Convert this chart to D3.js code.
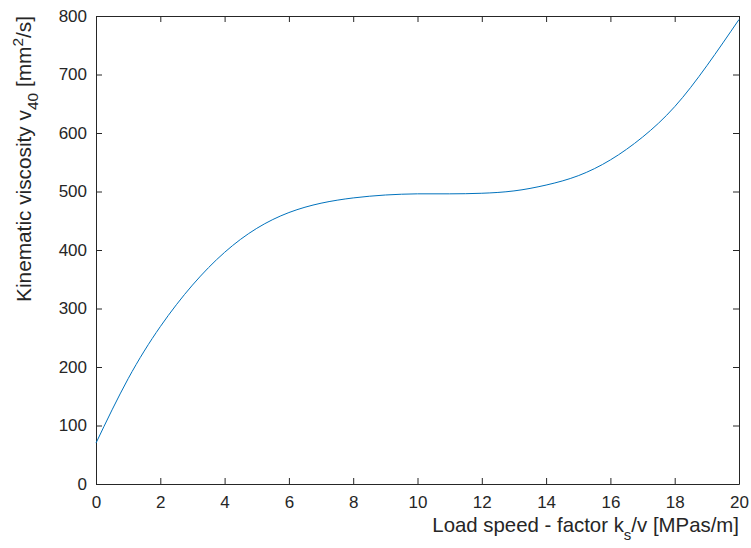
<!DOCTYPE html>
<html>
<head>
<meta charset="utf-8">
<script src="https://cdn.jsdelivr.net/npm/d3@7"></script>
<style>
  body { margin: 0; background: #fff; }
  svg text { font-family: "Liberation Sans", Arial, sans-serif; fill: #262626; }
</style>
</head>
<body>
<div id="chart"></div>
<script>
// values
const loadFactor = [0, 1, 2, 3, 4, 5, 6, 7, 8, 9, 10, 11, 12, 13, 14, 15, 16, 17, 18, 19, 20];
const viscosity = [70, 180, 269, 340, 396, 437, 464, 480, 489, 494, 496, 496, 497, 501, 511, 527, 554, 593, 645, 715, 794];
const xTicks = [0, 2, 4, 6, 8, 10, 12, 14, 16, 18, 20];
const yTicks = [0, 100, 200, 300, 400, 500, 600, 700, 800];

const W = 751, H = 548;
const margin = { top: 16, right: 12, bottom: 64, left: 96 };
const width = W - margin.left - margin.right;
const height = H - margin.top - margin.bottom;

const svg = d3.select("#chart").append("svg")
  .attr("width", W)
  .attr("height", H);

const g = svg.append("g")
  .attr("transform", `translate(${margin.left},${margin.top})`);

const x = d3.scaleLinear().domain([0, 20]).range([0, width]);
const y = d3.scaleLinear().domain([0, 800]).range([height, 0]);

const data = loadFactor.map((d, i) => ({ x: d, y: viscosity[i] }));

// axes, ticks pointing inward like the original
const tickLen = 6;
function styleAxis(sel) {
  sel.select(".domain").attr("stroke", "#262626");
  sel.selectAll(".tick line").attr("stroke", "#262626");
  sel.selectAll(".tick text")
    .attr("font-size", 17)
    .attr("fill", "#262626")
    .attr("font-family", "Liberation Sans, Arial, sans-serif");
}

g.append("g")
  .attr("transform", `translate(0,${height})`)
  .call(d3.axisBottom(x).tickValues(xTicks).tickSizeInner(-tickLen).tickSizeOuter(0).tickPadding(12))
  .call(styleAxis);

g.append("g")
  .call(d3.axisLeft(y).tickValues(yTicks).tickSizeInner(-tickLen).tickSizeOuter(0).tickPadding(9))
  .call(styleAxis);

// box: top and right with ticks
g.append("g")
  .call(d3.axisTop(x).tickValues(xTicks).tickSizeInner(-tickLen).tickSizeOuter(0).tickFormat(""))
  .call(styleAxis);

g.append("g")
  .attr("transform", `translate(${width},0)`)
  .call(d3.axisRight(y).tickValues(yTicks).tickSizeInner(-tickLen).tickSizeOuter(0).tickFormat(""))
  .call(styleAxis);

// curve
const line = d3.line()
  .x(d => x(d.x))
  .y(d => y(d.y))
  .curve(d3.curveNatural);

g.append("path")
  .datum(data)
  .attr("fill", "none")
  .attr("stroke", "#0072BD")
  .attr("stroke-width", 1)
  .attr("d", line);

// x label
const xl = svg.append("text")
  .attr("x", margin.left + width)
  .attr("y", 532)
  .attr("text-anchor", "end")
  .attr("font-size", 20.4);
xl.append("tspan").text("Load speed - factor k");
xl.append("tspan").attr("font-size", 15).attr("dy", 8).text("s");
xl.append("tspan").attr("dy", -8).text("/v [MPas/m]");

// y label
const yl = svg.append("text")
  .attr("transform", `translate(31,${margin.top}) rotate(-90)`)
  .attr("text-anchor", "end")
  .attr("font-size", 20.8);
yl.append("tspan").text("Kinematic viscosity v");
yl.append("tspan").attr("font-size", 15.5).attr("dy", 7).text("40");
yl.append("tspan").attr("dy", -7).text(" [mm");
yl.append("tspan").attr("font-size", 15.5).attr("dy", -8).text("2");
yl.append("tspan").attr("dy", 8).text("/s]");
</script>
</body>
</html>
